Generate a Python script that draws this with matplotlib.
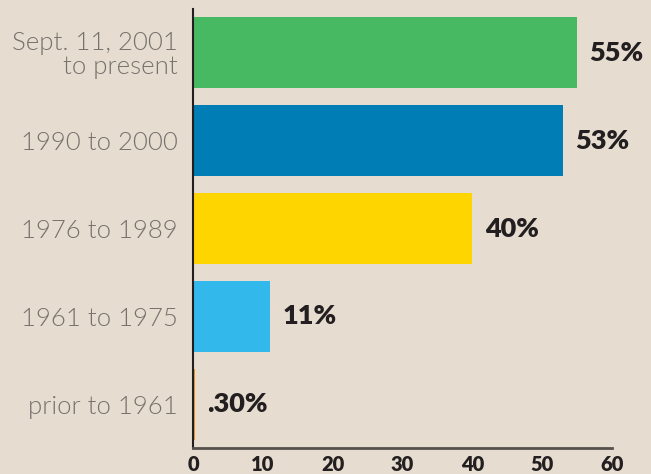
import matplotlib
matplotlib.use("Agg")
import matplotlib.pyplot as plt

categories = ["Sept. 11, 2001\nto present", "1990 to 2000", "1976 to 1989", "1961 to 1975", "prior to 1961"]
values = [55, 53, 40, 11, 0.30]
value_labels = ["55%", "53%", "40%", "11%", ".30%"]
colors = ["#48b963", "#007db4", "#ffd500", "#33b8ec", "#e89a1c"]
xticks = [0, 10, 20, 30, 40, 50, 60]

bg = "#e6ddd0"
fig = plt.figure(figsize=(6.51, 4.74), dpi=100, facecolor=bg)
ax = fig.add_axes([0.2965, 0.0549, 0.6435, 0.926], facecolor=bg)

y = list(range(len(categories)))
ax.barh(y, values, height=0.81, color=colors)
ax.set_ylim(len(categories) - 0.5, -0.5)
ax.set_xlim(0, 60)

for yi, v, lab in zip(y, values, value_labels):
    ax.annotate(lab, (v, yi), xytext=(9, 0), textcoords="offset points",
                ha="left", va="center", fontsize=19.5, fontweight="heavy",
                color="#231f20", family=["Lato", "DejaVu Sans"])

ax.set_yticks(y)
ax.set_yticklabels(categories, fontsize=18.5, color="#77716c", fontweight=300,
                   family=["Lato", "DejaVu Sans"], linespacing=1.0)
ax.set_xticks(xticks)
ax.set_xticklabels([str(t) for t in xticks], fontsize=14.5, fontweight="heavy",
                   color="#231f20", family=["Lato", "DejaVu Sans"])
ax.tick_params(axis="both", length=0)
ax.tick_params(axis="y", pad=11)
ax.tick_params(axis="x", pad=5)

for s in ["top", "right"]:
    ax.spines[s].set_visible(False)
ax.spines["left"].set_color("#231f20")
ax.spines["left"].set_linewidth(1.5)
ax.spines["bottom"].set_color("#55504c")
ax.spines["bottom"].set_linewidth(2)

fig.savefig("out.png", dpi=100, facecolor=bg)
